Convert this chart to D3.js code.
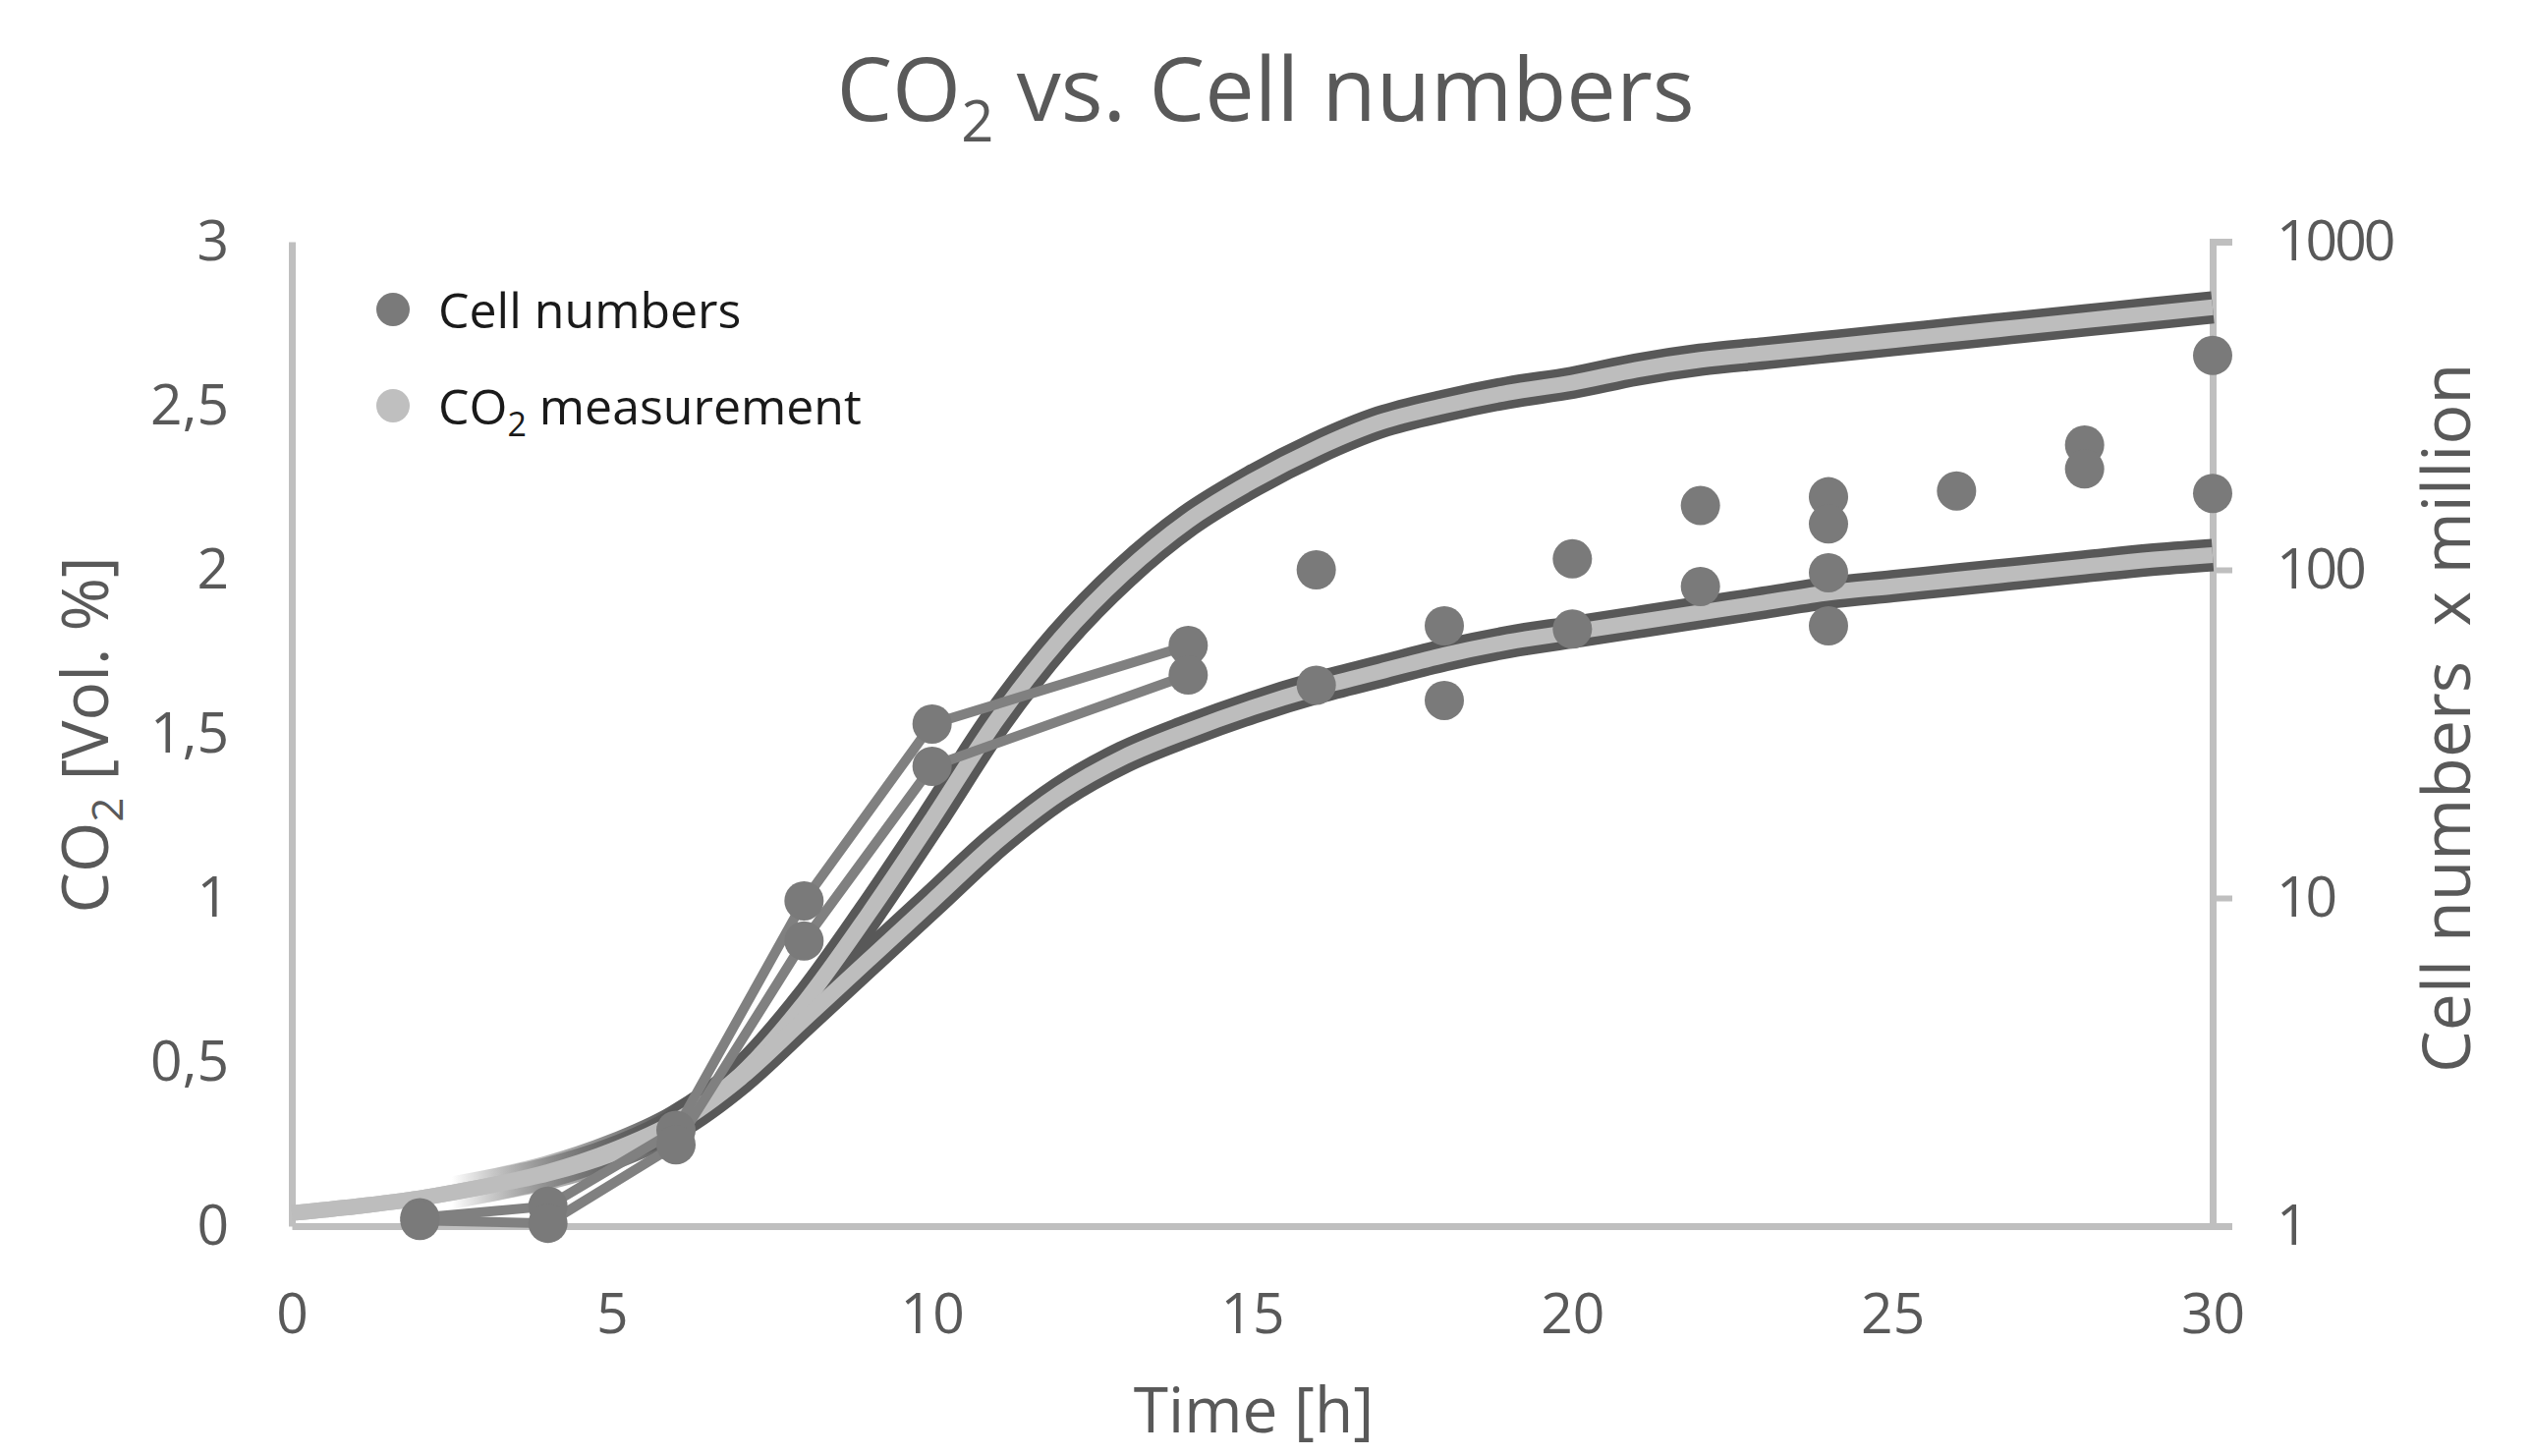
<!DOCTYPE html>
<html>
<head>
<meta charset="utf-8">
<script src="https://cdn.jsdelivr.net/npm/d3@7"></script>
<style>
  html, body { margin: 0; padding: 0; background: #fff; }
  text { font-family: "Open Sans", "Noto Sans", sans-serif; }
</style>
</head>
<body>
<svg id="chart" width="2575" height="1482"></svg>
<script>
// CO2 curves (Vol. %)
const co2Hours = [0, 1, 2, 3, 4, 5, 6, 7, 8, 9, 10, 11, 12, 13, 14, 15,
    16, 17, 18, 19, 20, 21, 22, 23, 24, 25, 26, 27, 28, 29, 30];
const co2Upper = [0.04, 0.06, 0.085, 0.12, 0.165, 0.23, 0.32, 0.46, 0.68, 0.95, 1.24,
    1.54, 1.79, 1.99, 2.15, 2.27, 2.37, 2.45, 2.50, 2.54, 2.57, 2.61, 2.64, 2.66,
    2.68, 2.70, 2.72, 2.74, 2.76, 2.78, 2.80];
const co2Lower = [0.04, 0.06, 0.085, 0.12, 0.16, 0.22, 0.31, 0.45, 0.63, 0.81, 0.99,
    1.17, 1.32, 1.43, 1.51, 1.58, 1.64, 1.69, 1.74, 1.78, 1.81, 1.84, 1.87, 1.90,
    1.93, 1.95, 1.97, 1.99, 2.01, 2.03, 2.045];

// cell numbers (x million), connected replicates
const cellHours = [2, 4, 6, 8, 10, 14];
const cellsA = [1.06, 1.15, 1.96, 9.8, 33.9, 58.8];
const cellsB = [1.04, 1.02, 1.77, 7.4, 25.2, 47.8];

// later cell counts, markers only
const scatterHours = [16, 16, 18, 18, 20, 20, 22, 22, 24, 24, 24, 24, 26, 28, 28, 30, 30];
const scatterCells = [100, 44.5, 67.5, 40, 108, 66, 157, 89, 167, 138, 98, 67.5, 174, 240, 203, 450, 171];

const xTicks = [0, 5, 10, 15, 20, 25, 30];
const yLeftTicks = [0, 0.5, 1, 1.5, 2, 2.5, 3];
const yRightTicks = [1, 10, 100, 1000];

const svg = d3.select('#chart');
const plotLeft = 297, plotRight = 2252, plotTop = 246, plotBottom = 1248;

const x = d3.scaleLinear().domain([0, 30]).range([plotLeft, plotRight]);
const yL = d3.scaleLinear().domain([0, 3]).range([plotBottom, plotTop]);
const yR = d3.scaleLog().domain([1, 1000]).range([plotBottom, plotTop]);

const axisColor = '#bfbfbf';
const textColor = '#595959';
const edgeColor = '#585858';

// the dark edge of the CO2 bands only shows after the first hours
const fade = svg.append('defs').append('linearGradient')
    .attr('id', 'edgeFade')
    .attr('gradientUnits', 'userSpaceOnUse')
    .attr('x1', x(2.5)).attr('x2', x(6)).attr('y1', 0).attr('y2', 0);
fade.append('stop').attr('offset', 0).attr('stop-color', edgeColor).attr('stop-opacity', 0);
fade.append('stop').attr('offset', 1).attr('stop-color', edgeColor).attr('stop-opacity', 1);

// title
const title = svg.append('text')
    .attr('x', 1288).attr('y', 123)
    .attr('text-anchor', 'middle')
    .attr('font-size', 90)
    .attr('fill', textColor);
title.append('tspan').text('CO');
title.append('tspan').attr('font-size', 58).attr('dy', 21).text('2');
title.append('tspan').attr('dy', -21).text(' vs. Cell numbers');

// axes
const styleAxis = (g) => {
    g.selectAll('.domain').attr('stroke', axisColor).attr('stroke-width', 7);
    g.selectAll('.tick line').attr('stroke', axisColor).attr('stroke-width', 6);
    g.selectAll('.tick text').attr('fill', textColor).attr('font-size', 57)
        .attr('font-family', '"Open Sans", sans-serif');
};

svg.append('g')
    .attr('transform', `translate(0,${plotBottom})`)
    .call(d3.axisBottom(x).tickValues(xTicks).tickSize(0).tickPadding(69))
    .call(styleAxis);

svg.append('g')
    .attr('transform', `translate(${plotLeft},0)`)
    .call(d3.axisLeft(yL).tickValues(yLeftTicks).tickSize(0).tickPadding(64)
        .tickFormat(d => d3.format('~g')(d).replace('.', ',')))
    .call(styleAxis);

svg.append('g')
    .attr('transform', `translate(${plotRight},0)`)
    .call(d3.axisRight(yR).tickValues(yRightTicks).tickSizeInner(20).tickSizeOuter(20)
        .tickPadding(45).tickFormat(d3.format('d')))
    .call(styleAxis)
    .call(g => g.selectAll('.tick text').attr('letter-spacing', -3));

// axis titles
svg.append('text')
    .attr('x', 1276).attr('y', 1458)
    .attr('text-anchor', 'middle')
    .attr('font-size', 64)
    .attr('fill', textColor)
    .text('Time [h]');

const yTitle = svg.append('text')
    .attr('transform', 'translate(110,748) rotate(-90)')
    .attr('text-anchor', 'middle')
    .attr('font-size', 66)
    .attr('fill', textColor);
yTitle.append('tspan').text('CO');
yTitle.append('tspan').attr('font-size', 44).attr('dy', 15).text('2');
yTitle.append('tspan').attr('dy', -15).text(' [Vol. %]');

svg.append('text')
    .attr('transform', 'translate(2514,731) rotate(-90)')
    .attr('text-anchor', 'middle')
    .attr('font-size', 68)
    .attr('fill', textColor)
    .style('white-space', 'pre')
    .text('Cell numbers  x million');

// CO2 bands: dark edge underneath, light line on top
const co2Line = d3.line()
    .x(d => x(d[0]))
    .y(d => yL(d[1]))
    .curve(d3.curveMonotoneX);

const co2Series = [co2Upper, co2Lower].map(vals => co2Hours.map((h, i) => [h, vals[i]]));

svg.append('g').selectAll('path')
    .data(co2Series)
    .join('path')
    .attr('d', co2Line)
    .attr('fill', 'none')
    .attr('stroke', 'url(#edgeFade)')
    .attr('stroke-width', 33);

svg.append('g').selectAll('path')
    .data(co2Series)
    .join('path')
    .attr('d', co2Line)
    .attr('fill', 'none')
    .attr('stroke', '#bdbdbd')
    .attr('stroke-width', 16);

// cell numbers
const cellColor = '#7a7a7a';
const cellLine = d3.line()
    .x(d => x(d[0]))
    .y(d => yR(d[1]));

const cellSeries = [cellsA, cellsB].map(vals => cellHours.map((h, i) => [h, vals[i]]));

svg.append('g').selectAll('path')
    .data(cellSeries)
    .join('path')
    .attr('d', cellLine)
    .attr('fill', 'none')
    .attr('stroke', '#808080')
    .attr('stroke-width', 10);

const allCells = cellSeries.flat()
    .concat(scatterHours.map((h, i) => [h, scatterCells[i]]));

svg.append('g').selectAll('circle')
    .data(allCells)
    .join('circle')
    .attr('cx', d => x(d[0]))
    .attr('cy', d => yR(d[1]))
    .attr('r', 20)
    .attr('fill', cellColor);

// legend
const legend = svg.append('g');
legend.append('circle').attr('cx', 400).attr('cy', 315).attr('r', 17).attr('fill', cellColor);
legend.append('circle').attr('cx', 400).attr('cy', 413).attr('r', 17).attr('fill', '#bfbfbf');
legend.append('text')
    .attr('x', 446).attr('y', 334)
    .attr('font-size', 50)
    .attr('fill', '#1a1a1a')
    .text('Cell numbers');
const l2 = legend.append('text')
    .attr('x', 446).attr('y', 432)
    .attr('font-size', 50)
    .attr('fill', '#1a1a1a');
l2.append('tspan').text('CO');
l2.append('tspan').attr('font-size', 34).attr('dy', 12).text('2');
l2.append('tspan').attr('dy', -12).text(' measurement');
</script>
</body>
</html>
